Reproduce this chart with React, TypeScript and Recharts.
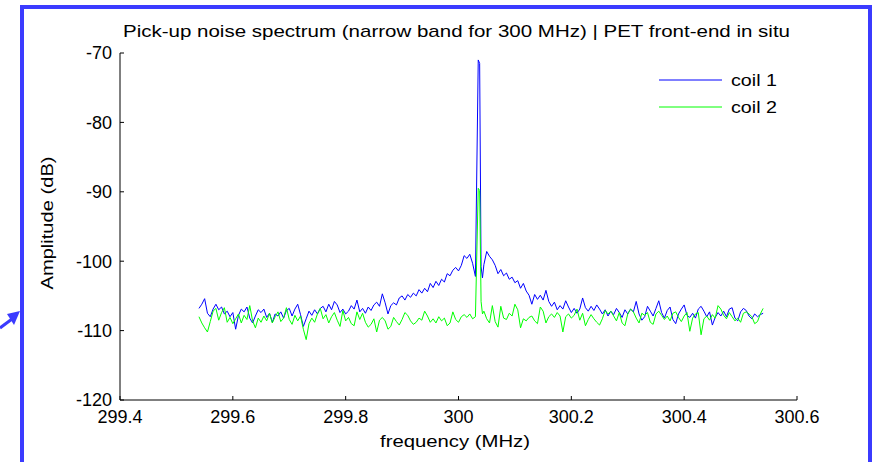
import React from "react";
import { LineChart, Line, XAxis, YAxis, Legend } from "recharts";

// frequency grid (MHz), extra points around the carrier at ~300.035
const frequency = [
  299.54, 299.545, 299.55, 299.555, 299.56, 299.565, 299.57, 299.575, 299.58, 299.585,
  299.59, 299.595, 299.6, 299.605, 299.61, 299.615, 299.62, 299.625, 299.63, 299.635,
  299.64, 299.645, 299.65, 299.655, 299.66, 299.665, 299.67, 299.675, 299.68, 299.685,
  299.69, 299.695, 299.7, 299.705, 299.71, 299.715, 299.72, 299.725, 299.73, 299.735,
  299.74, 299.745, 299.75, 299.755, 299.76, 299.765, 299.77, 299.775, 299.78, 299.785,
  299.79, 299.795, 299.8, 299.805, 299.81, 299.815, 299.82, 299.825, 299.83, 299.835,
  299.84, 299.845, 299.85, 299.855, 299.86, 299.865, 299.87, 299.875, 299.88, 299.885,
  299.89, 299.895, 299.9, 299.905, 299.91, 299.915, 299.92, 299.925, 299.93, 299.935,
  299.94, 299.945, 299.95, 299.955, 299.96, 299.965, 299.97, 299.975, 299.98, 299.985,
  299.99, 299.995, 300.0, 300.005, 300.01, 300.015, 300.02, 300.025, 300.03,
  300.035, 300.0375, 300.04, 300.0425,
  300.045, 300.05, 300.055, 300.06, 300.065, 300.07, 300.075, 300.08, 300.085, 300.09,
  300.095, 300.1, 300.105, 300.11, 300.115, 300.12, 300.125, 300.13, 300.135, 300.14,
  300.145, 300.15, 300.155, 300.16, 300.165, 300.17, 300.175, 300.18, 300.185, 300.19,
  300.195, 300.2, 300.205, 300.21, 300.215, 300.22, 300.225, 300.23, 300.235, 300.24,
  300.245, 300.25, 300.255, 300.26, 300.265, 300.27, 300.275, 300.28, 300.285, 300.29,
  300.295, 300.3, 300.305, 300.31, 300.315, 300.32, 300.325, 300.33, 300.335, 300.34,
  300.345, 300.35, 300.355, 300.36, 300.365, 300.37, 300.375, 300.38, 300.385, 300.39,
  300.395, 300.4, 300.405, 300.41, 300.415, 300.42, 300.425, 300.43, 300.435, 300.44,
  300.445, 300.45, 300.455, 300.46, 300.465, 300.47, 300.475, 300.48, 300.485, 300.49,
  300.495, 300.5, 300.505, 300.51, 300.515, 300.52, 300.525, 300.53, 300.535, 300.54,
];

// coil 1 amplitude (dB)
const coil1 = [
  -106.8, -106.2, -105.4, -107.5, -108.0, -106.9, -106.2, -107.0, -106.6, -107.6,
  -107.2, -108.0, -107.4, -109.8, -107.8, -106.9, -107.3, -106.6, -108.2, -108.9,
  -107.9, -107.0, -107.4, -106.9, -108.1, -107.5, -108.8, -107.6, -107.9, -107.3,
  -108.2, -107.1, -106.8, -107.9, -106.9, -106.2, -107.7, -109.4, -108.3, -107.2,
  -107.8, -107.0, -107.6, -106.8, -106.5, -107.3, -106.2, -107.0, -105.8, -106.3,
  -107.4, -106.9, -107.6, -107.2, -106.4, -106.9, -105.6, -107.3, -106.8, -107.5,
  -106.6, -107.1, -106.3, -105.9, -106.5, -104.7, -106.0, -107.6, -106.4, -106.0,
  -106.3, -105.3, -105.0, -105.6, -104.8, -105.2, -104.6, -105.0, -104.1, -104.6,
  -103.9, -104.4, -103.2, -103.8, -102.9, -103.5, -102.6, -103.0, -101.8, -102.1,
  -101.3, -100.9, -101.4, -100.6, -99.2, -99.6, -99.0, -100.3, -102.2,
  -71.0, -71.5, -100.8, -102.4,
  -100.5, -98.6, -99.3, -99.8, -100.6, -101.8, -101.2, -102.1, -101.7, -102.6,
  -102.3, -103.1, -102.8, -103.9, -103.2, -104.3, -104.9, -106.2, -104.8, -105.5,
  -104.9, -105.6, -104.2, -105.8, -106.5, -105.9, -107.0, -106.4, -106.9, -105.7,
  -106.6, -107.4, -106.8, -107.5, -106.9, -105.3, -106.7, -107.2, -106.5, -107.1,
  -106.3, -106.9, -107.6, -107.0, -107.9, -107.2, -107.7, -106.8, -107.4, -108.1,
  -107.0, -107.6, -106.9, -107.3, -105.8, -107.6, -108.5, -108.0, -106.5, -107.2,
  -107.9, -106.8, -105.7, -107.4, -108.2, -107.1, -106.6, -108.4, -109.0, -107.6,
  -106.9, -106.3, -107.8, -108.1, -107.5, -108.2, -106.9, -106.5, -107.2, -108.0,
  -107.3, -109.2, -108.1, -107.4, -107.9, -107.2, -108.0, -106.9, -106.7, -108.2,
  -108.6, -107.3, -106.8, -107.1, -107.9, -108.3, -107.6, -108.0, -107.7, -107.5,
];

// coil 2 amplitude (dB)
const coil2 = [
  -108.0, -108.9, -109.6, -110.2, -108.7, -107.2, -106.8, -108.5, -107.4, -106.7,
  -108.8, -108.1, -109.0, -108.3, -107.6, -108.9, -107.8, -108.4, -106.4, -108.6,
  -109.6, -108.2, -108.8, -107.9, -108.6, -107.5, -108.9, -108.0, -107.3, -108.7,
  -108.2, -106.7, -108.4, -109.1, -107.8, -108.6, -107.9, -109.8, -111.3, -109.0,
  -108.2, -108.8, -107.6, -106.8, -108.3, -107.7, -108.9, -108.0, -107.4, -108.5,
  -109.4, -107.1, -108.6, -108.1, -109.0, -109.3, -107.3, -108.4, -107.5, -108.8,
  -109.5, -109.1, -108.3, -110.2, -108.5, -108.1, -108.6, -109.8, -109.4, -108.1,
  -108.7, -109.2, -108.4, -107.4, -107.8, -108.6, -109.1, -108.8, -108.2, -108.5,
  -107.2, -107.9, -108.8, -108.3, -108.9, -108.0, -108.6, -108.2, -109.3, -108.9,
  -107.3, -108.4, -108.8, -108.0, -107.7, -108.1, -107.6, -108.3, -108.0,
  -89.5, -89.8, -105.8, -107.6,
  -107.2, -108.3, -108.9, -106.4, -108.7, -109.5, -106.5, -108.2, -108.4, -107.5,
  -107.9, -106.2, -107.0, -109.6, -108.3, -108.6, -108.1, -107.9, -108.6, -109.0,
  -106.6, -107.2, -108.9, -108.0, -107.6, -108.1, -107.4, -107.9, -110.2, -108.0,
  -107.6, -108.2, -107.8, -106.9, -108.5, -107.5, -109.3, -108.4, -107.7, -108.3,
  -108.8, -109.2, -108.3, -107.1, -107.6, -107.2, -107.9, -108.6, -107.4, -108.9,
  -109.3, -107.6, -106.9, -107.3, -108.2, -108.9, -107.5, -107.8, -107.4, -108.8,
  -109.1, -107.6, -107.2, -107.8, -108.4, -107.9, -108.6, -107.5, -107.3, -108.1,
  -108.7, -107.9, -107.4, -110.1, -108.2, -107.6, -107.4, -110.6, -108.3, -107.9,
  -108.5, -107.7, -108.2, -106.4, -106.9, -107.8, -108.3, -107.4, -108.0, -108.6,
  -108.2, -108.8, -107.5, -107.3, -107.6, -108.0, -109.0, -108.7, -107.6, -106.8,
];

const xTicks = [299.4, 299.6, 299.8, 300, 300.2, 300.4, 300.6];
const yTicks = [-120, -110, -100, -90, -80, -70];
const seriesNames = ["coil 1", "coil 2"];
const seriesColors = ["#0000ff", "#00ff00"];

const data = frequency.map((f, i) => ({ f, coil1: coil1[i], coil2: coil2[i] }));

const FONT = '"Liberation Sans", Arial, Helvetica, sans-serif';

function LegendBox() {
  return (
    <svg width={150} height={56} style={{ display: "block" }}>
      {seriesNames.map((name, i) => (
        <g key={name}>
          <line x1={4} x2={67} y1={12 + i * 27} y2={12 + i * 27} stroke={seriesColors[i]} strokeWidth={1} />
          <text x={76} y={18 + i * 27} fontSize={17} fontFamily={FONT} fill="#000" textLength={46} lengthAdjust="spacingAndGlyphs">
            {name}
          </text>
        </g>
      ))}
    </svg>
  );
}

export default function App() {
  return (
    <div style={{ position: "absolute", left: 0, top: 0, width: 879, height: 462, background: "#fff", overflow: "hidden" }}>
      <LineChart width={879} height={462} data={data} margin={{ top: 53, right: 82, bottom: 22, left: 60 }}>
        <XAxis
          dataKey="f"
          type="number"
          domain={[299.4, 300.6]}
          ticks={xTicks}
          interval={0}
          height={40}
          tickSize={-4}
          tickMargin={14}
          stroke="#000"
          tick={{ fill: "#000", fontSize: 18, fontFamily: FONT }}
          tickFormatter={(v: number) => String(v)}
        />
        <YAxis
          type="number"
          domain={[-120, -70]}
          ticks={yTicks}
          interval={0}
          width={60}
          tickSize={-4}
          tickMargin={12}
          stroke="#000"
          tick={{ fill: "#000", fontSize: 18, fontFamily: FONT }}
        />
        <Legend
          layout="vertical"
          align="center"
          verticalAlign="middle"
          content={() => <LegendBox />}
          wrapperStyle={{ position: "absolute", left: 655, top: 68, width: 150, height: 56 }}
        />
        <Line dataKey="coil1" name="coil 1" stroke="#0000ff" strokeWidth={1} dot={false} type="linear" isAnimationActive={false} />
        <Line dataKey="coil2" name="coil 2" stroke="#00ff00" strokeWidth={1} dot={false} type="linear" isAnimationActive={false} />
      </LineChart>
      <svg width={879} height={462} style={{ position: "absolute", left: 0, top: 0, pointerEvents: "none" }}>
        <rect x={22} y={7} width={848} height={520} fill="none" stroke="#3b3bff" strokeWidth={4} />
        <line x1={0} y1={328} x2={12} y2={319} stroke="#3b3bff" strokeWidth={3} />
        <polygon points="20,311 7,314 14,325" fill="#3b3bff" />
        <text x={456.5} y={37} textAnchor="middle" fontSize={17} fontFamily={FONT} fill="#000" textLength={667} lengthAdjust="spacingAndGlyphs">
          Pick-up noise spectrum (narrow band for 300 MHz) | PET front-end in situ
        </text>
        <text x={455} y={447} textAnchor="middle" fontSize={17} fontFamily={FONT} fill="#000" textLength={150} lengthAdjust="spacingAndGlyphs">
          frequency (MHz)
        </text>
        <text transform="translate(53,223) rotate(-90)" textAnchor="middle" fontSize={17} fontFamily={FONT} fill="#000" textLength={133} lengthAdjust="spacingAndGlyphs">
          Amplitude (dB)
        </text>
      </svg>
    </div>
  );
}
